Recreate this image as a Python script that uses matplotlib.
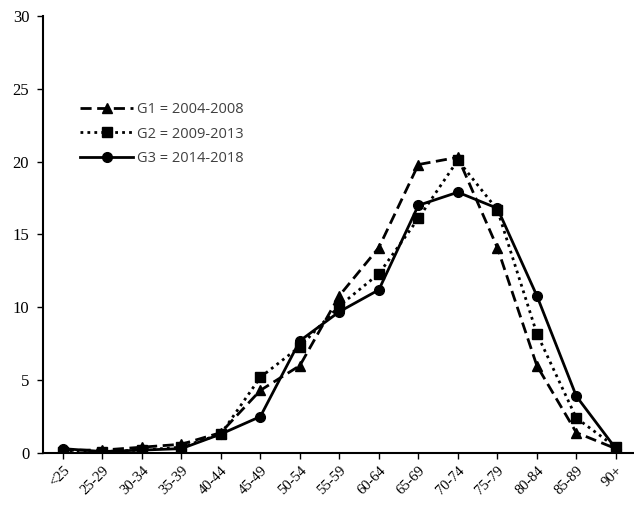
import matplotlib
matplotlib.use('Agg')
import matplotlib.pyplot as plt

# age groups on the x axis
age_groups = ['<25', '25-29', '30-34', '35-39', '40-44', '45-49', '50-54', '55-59',
              '60-64', '65-69', '70-74', '75-79', '80-84', '85-89', '90+']

# percentages
g1 = [0.2, 0.2, 0.4, 0.6, 1.4, 4.3, 6.0, 10.8, 14.1, 19.8, 20.3, 14.1, 6.0, 1.4, 0.3]
g2 = [0.1, 0.1, 0.2, 0.4, 1.3, 5.2, 7.3, 10.1, 12.3, 16.1, 20.1, 16.7, 8.2, 2.4, 0.4]
g3 = [0.3, 0.1, 0.2, 0.3, 1.3, 2.5, 7.7, 9.7, 11.2, 17.0, 17.9, 16.8, 10.8, 3.9, 0.3]

labels = ['G1 = 2004-2008', 'G2 = 2009-2013', 'G3 = 2014-2018']

fig = plt.figure(figsize=(6.34, 5.07), dpi=100)
ax = fig.add_axes([0.068, 0.1065, 0.932, 0.8620])

x = range(len(age_groups))
ax.plot(x, g1, color='black', linestyle=(0, (4, 2)), linewidth=2,
        marker='^', markersize=7, label=labels[0])
ax.plot(x, g2, color='black', linestyle=(0, (1, 1.5)), linewidth=2,
        marker='s', markersize=7, label=labels[1])
ax.plot(x, g3, color='black', linestyle='-', linewidth=2,
        marker='o', markersize=7, label=labels[2])

ax.set_xlim(-0.5, 14.46)
ax.set_ylim(0, 30)
ax.set_yticks([0, 5, 10, 15, 20, 25, 30])
ax.set_xticks(list(x))
ax.set_xticklabels(age_groups, rotation=45, ha='right', rotation_mode='anchor',
                   fontfamily='Liberation Serif', fontsize=10.5)
for t in ax.get_yticklabels():
    t.set_fontfamily('Liberation Serif')
    t.set_fontsize(12)

for side in ['top', 'right']:
    ax.spines[side].set_visible(False)
ax.spines['left'].set_linewidth(1.5)
ax.spines['bottom'].set_linewidth(1.5)
ax.tick_params(axis='y', direction='out', length=4, width=1, pad=6)
ax.tick_params(axis='x', direction='out', length=4, width=1, pad=4)

leg = ax.legend(loc='upper left', bbox_to_anchor=(0.063, 0.803), frameon=False,
                borderpad=0, borderaxespad=0,
                prop={'family': 'Open Sans', 'size': 10.5}, handlelength=3.6,
                handletextpad=0.3, labelspacing=0.65)
for t in leg.get_texts():
    t.set_color('#404040')

fig.savefig('out.png', dpi=100)
